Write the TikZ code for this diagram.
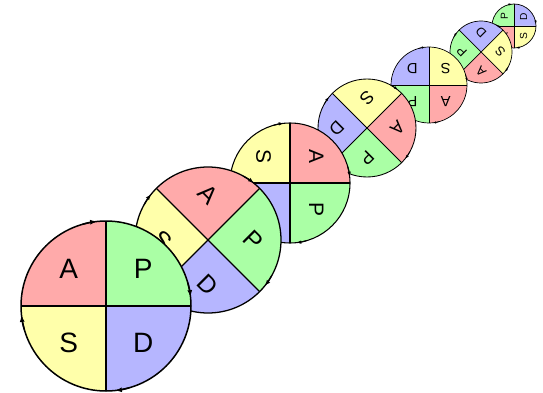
\documentclass[tikz,border=0pt]{standalone}
\usepackage{fontspec}
\setmainfont{Liberation Sans}
\usetikzlibrary{arrows.meta}
\definecolor{qA}{RGB}{255,170,170}
\definecolor{qP}{RGB}{170,255,165}
\definecolor{qS}{RGB}{255,255,170}
\definecolor{qD}{RGB}{182,182,255}
\begin{document}
\begin{tikzpicture}[x=1pt,y=1pt]
\useasboundingbox (0,0) rectangle (543,-393);
\foreach \cx/\cy/\rad/\rot [count=\i] in {514/26/22/270, 481/52/31/225, 429/85/38/180, 367/128/49/135, 290/183/60/90, 208/240/73/45, 106/306/85/0}{
  \pgfmathsetmacro\lw{max(0.7,1.5*\rad/85)}
  \pgfmathsetmacro\fs{4+24*\rad/85}
  \pgfmathsetmacro\al{max(3,7*\rad/85)}
  \pgfmathsetmacro\aw{max(2.4,5*\rad/85)}
  \begin{scope}[shift={(\cx,-\cy)}]
    \fill[qA] (0,0) -- (90-\rot:\rad) arc[start angle=90-\rot, end angle=180-\rot, radius=\rad] -- cycle;
    \fill[qP] (0,0) -- (0-\rot:\rad) arc[start angle=0-\rot, end angle=90-\rot, radius=\rad] -- cycle;
    \fill[qD] (0,0) -- (-90-\rot:\rad) arc[start angle=-90-\rot, end angle=0-\rot, radius=\rad] -- cycle;
    \fill[qS] (0,0) -- (180-\rot:\rad) arc[start angle=180-\rot, end angle=270-\rot, radius=\rad] -- cycle;
    \draw[line width=\lw] (90-\rot:\rad) -- (270-\rot:\rad) (0-\rot:\rad) -- (180-\rot:\rad);
    \draw[line width=\lw] (0,0) circle[radius=\rad];
    \foreach \b in {96,6,-84,186}{
      \draw[line width=\lw, -{Latex[length=\al pt, width=\aw pt]}] (\b+10-\rot:\rad) arc[start angle=\b+10-\rot, end angle=\b-\rot, radius=\rad];
    }
    \node[rotate=-\rot, font=\fontsize{\fs}{\fs}\selectfont, inner sep=0pt] (A\i) at (135-\rot:0.62*\rad) {A};
    \node[rotate=-\rot, font=\fontsize{\fs}{\fs}\selectfont, inner sep=0pt] (P\i) at (45-\rot:0.62*\rad) {P};
    \node[rotate=-\rot, font=\fontsize{\fs}{\fs}\selectfont, inner sep=0pt] (S\i) at (225-\rot:0.62*\rad) {S};
    \node[rotate=-\rot, font=\fontsize{\fs}{\fs}\selectfont, inner sep=0pt] (D\i) at (-45-\rot:0.62*\rad) {D};
  \end{scope}
}
\end{tikzpicture}
\end{document}
